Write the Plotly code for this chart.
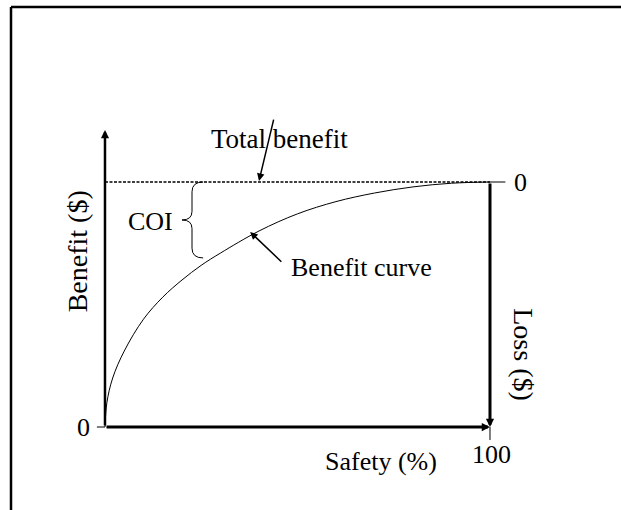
import plotly.graph_objects as go

# Benefit curve (safety %, benefit % of total)
safety = [0, 0.5, 2, 5, 10, 15, 20, 25, 30, 40, 50, 60, 70, 80, 90, 100]
benefit = [0, 10, 20, 31, 44, 53, 60, 66, 71, 80, 87, 92, 95.5, 98, 99.5, 100]

total_benefit = 100
x_max = 100

# tick labels
left_tick_label = "0"
right_tick_label = "0"
bottom_tick_label = "100"

FONT = "Liberation Serif, Times New Roman, serif"

fig = go.Figure()

fig.add_trace(go.Scatter(x=safety, y=benefit, mode="lines",
                         line=dict(color="black", width=1, shape="spline"),
                         hoverinfo="skip", showlegend=False))

# Total benefit dotted line
fig.add_trace(go.Scatter(x=[0, x_max], y=[total_benefit, total_benefit], mode="lines",
                         line=dict(color="black", width=1.3, dash="3px,1.5px"),
                         hoverinfo="skip", showlegend=False))

# Small ticks
for xs, ys in [([-2.1, 0], [0, 0]), ([x_max, 104], [total_benefit, total_benefit]),
               ([x_max, x_max], [0, -5.3])]:
    fig.add_trace(go.Scatter(x=xs, y=ys, mode="lines",
                             line=dict(color="black", width=1),
                             hoverinfo="skip", showlegend=False))

ann = []
def arrow(x0, y0, x1, y1, w, size):
    ann.append(dict(x=x1, y=y1, ax=x0, ay=y0, xref="x", yref="y", axref="x", ayref="y",
                    text="", showarrow=True, arrowhead=2, arrowwidth=w, arrowsize=size,
                    arrowcolor="black", standoff=0, startstandoff=0))

# axes as arrows
arrow(0, 0, 0, 121.2, 2.5, 0.65)
arrow(0, 0, x_max, 0, 3, 0.55)
arrow(x_max, total_benefit, x_max, 0, 3, 0.55)
# pointer arrows
arrow(43.9, 126.1, 40, 100.4, 1.5, 1.0)
arrow(46.2, 66.9, 37.7, 79.6, 1.5, 1.0)

def label(x, y, t, size=26, angle=0):
    ann.append(dict(x=x, y=y, xref="x", yref="y", text=t, showarrow=False,
                    textangle=angle, font=dict(family=FONT, size=size, color="black"),
                    xanchor="center", yanchor="middle"))

label(45.45, 117.5, "Total benefit", 27)
label(11.7, 83.7, "COI", 26)
label(66.5, 65.3, "Benefit curve", 26)
label(71.7, -13.9, "Safety (%)", 26)
label(100.5, -11.4, bottom_tick_label, 26)
label(-5.7, -0.4, left_tick_label, 26)
label(107.8, 99.6, right_tick_label, 26)
label(-7.2, 71.8, "Benefit ($)", 28, -90)
label(108.5, 29.4, "Loss ($)", 28, 90)

shapes = [
    # COI brace
    dict(type="path", xref="x", yref="y",
         path="M 25.5,100 Q 22.6,100 22.6,96 L 22.6,88 Q 22.6,84.5 20,84.5 "
              "Q 22.6,84.5 22.6,81 L 22.6,73 Q 22.6,69 25.5,69",
         line=dict(color="black", width=1)),
    # outer frame (top and left)
    dict(type="line", xref="paper", yref="paper", x0=11/621, x1=1.0, y0=1-7/510, y1=1-7/510,
         line=dict(color="black", width=2.5)),
    dict(type="line", xref="paper", yref="paper", x0=11/621, x1=11/621, y0=1-7/510, y1=0,
         line=dict(color="black", width=2.5)),
]

fig.update_layout(
    width=621, height=510, autosize=False,
    margin=dict(l=0, r=0, t=0, b=0),
    paper_bgcolor="white", plot_bgcolor="white",
    xaxis=dict(range=[-27.27, 134.03], visible=False, fixedrange=True),
    yaxis=dict(range=[-33.88, 174.29], visible=False, fixedrange=True),
    annotations=ann, shapes=shapes, showlegend=False,
)

fig.write_html("out.html", config={"displayModeBar": False},
               post_script="document.body.style.margin='0';document.body.style.overflow='hidden';")
